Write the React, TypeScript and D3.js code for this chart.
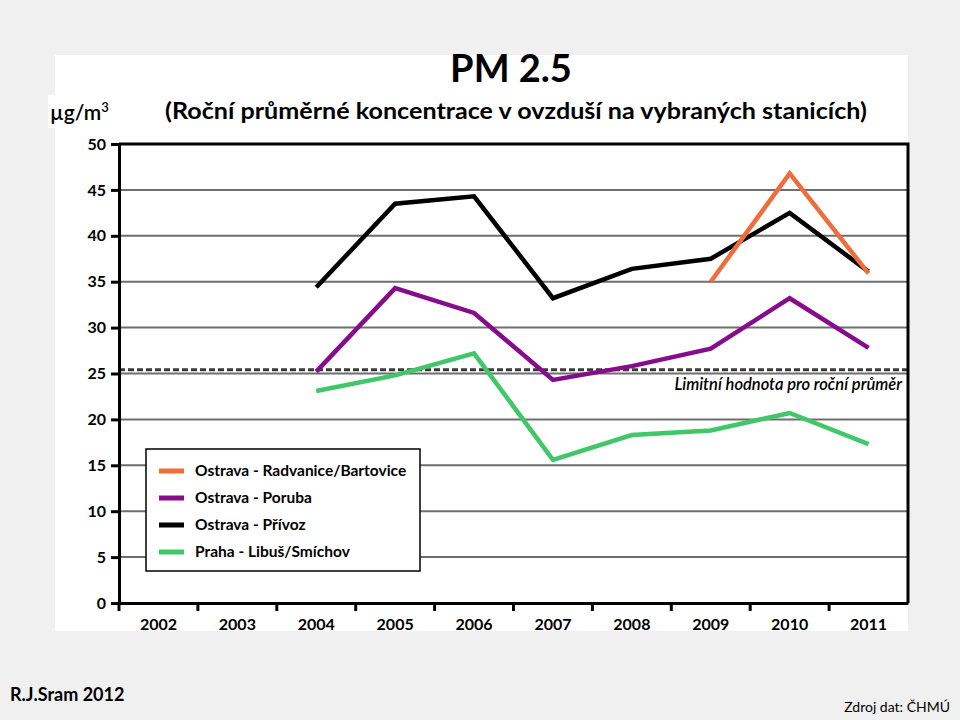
import React, { useEffect, useRef } from "react";
import * as d3 from "d3";

const years = ["2002", "2003", "2004", "2005", "2006", "2007", "2008", "2009", "2010", "2011"];
const radvanice = [null, null, null, null, null, null, null, 35.0, 46.8, 35.9];
const poruba = [null, null, 25.2, 34.3, 31.6, 24.3, 25.8, 27.7, 33.2, 27.8];
const privoz = [null, null, 34.4, 43.5, 44.3, 33.2, 36.4, 37.5, 42.5, 36.1];
const praha = [null, null, 23.1, 24.8, 27.2, 15.6, 18.3, 18.8, 20.7, 17.3];
const yTicks = [0, 5, 10, 15, 20, 25, 30, 35, 40, 45, 50];
const limitValue = 25.4;

const series = [
  { name: "Ostrava - Radvanice/Bartovice", values: radvanice, color: "#ef6d3b" },
  { name: "Ostrava - Poruba", values: poruba, color: "#870c8c" },
  { name: "Ostrava - Přívoz", values: privoz, color: "#000000" },
  { name: "Praha - Libuš/Smíchov", values: praha, color: "#40c768" },
];
// drawing order: orange on top
const drawOrder = [3, 1, 2, 0];

const WIDTH = 960;
const HEIGHT = 720;
const FONT = "Lato, 'Open Sans', sans-serif";

export default function App() {
  const ref = useRef<SVGSVGElement>(null);

  useEffect(() => {
    const container = ref.current;
    if (!container) return;

    const svg = d3.select(container);
    svg.selectAll("*").remove();

    svg.append("rect").attr("width", WIDTH).attr("height", HEIGHT).attr("fill", "#f0f0f0");
    // white panel
    svg.append("rect").attr("x", 55).attr("y", 55).attr("width", 853).attr("height", 576).attr("fill", "#ffffff");
    svg.append("rect").attr("x", 48).attr("y", 95).attr("width", 73).attr("height", 33).attr("fill", "#ffffff");

    const left = 119;
    const right = 908;
    const top = 144;
    const bottom = 603;

    const x = d3.scaleBand().domain(years).range([left, right]).padding(0);
    const y = d3.scaleLinear().domain([0, 50]).range([bottom, top]);

    // gridlines
    svg
      .append("g")
      .selectAll("line")
      .data(yTicks.filter((t) => t > 0 && t < 50))
      .enter()
      .append("line")
      .attr("x1", left)
      .attr("x2", right)
      .attr("y1", (d) => y(d))
      .attr("y2", (d) => y(d))
      .attr("stroke", "#6e6e6e")
      .attr("stroke-width", 2);

    // limit line
    svg
      .append("line")
      .attr("x1", left)
      .attr("x2", right)
      .attr("y1", y(limitValue))
      .attr("y2", y(limitValue))
      .attr("stroke", "#3a3a3a")
      .attr("stroke-width", 3)
      .attr("stroke-dasharray", "6,3");

    svg
      .append("text")
      .attr("x", 902)
      .attr("y", 390)
      .attr("text-anchor", "end")
      .attr("font-family", FONT)
      .attr("font-size", 16.5)
      .attr("font-style", "italic")
      .attr("font-weight", 600)
      .text("Limitní hodnota pro roční průměr");

    // frame: top and right
    svg
      .append("path")
      .attr("d", `M${left},${top}H${right}V${bottom}`)
      .attr("fill", "none")
      .attr("stroke", "#000")
      .attr("stroke-width", 3);

    // y axis
    const yAxis = d3.axisLeft(y).tickValues(yTicks).tickSize(8).tickPadding(5);
    const gy = svg.append("g").attr("transform", `translate(${left},0)`).call(yAxis);
    gy.select(".domain").attr("stroke-width", 3);
    gy.selectAll(".tick line").attr("stroke-width", 3);
    gy.selectAll("text")
      .attr("font-family", FONT)
      .attr("font-size", 16)
      .attr("font-weight", 700)
      .attr("fill", "#000");

    // x axis
    const xAxis = d3.axisBottom(x).tickSize(0).tickPadding(16);
    const gx = svg.append("g").attr("transform", `translate(0,${bottom})`).call(xAxis);
    gx.select(".domain").attr("stroke-width", 3);
    gx.selectAll("text")
      .attr("font-family", FONT)
      .attr("font-size", 16)
      .attr("font-weight", 700)
      .attr("fill", "#000");
    svg
      .append("g")
      .selectAll("line")
      .data(years)
      .enter()
      .append("line")
      .attr("x1", (d) => x(d)!)
      .attr("x2", (d) => x(d)!)
      .attr("y1", bottom)
      .attr("y2", bottom + 8)
      .attr("stroke", "#000")
      .attr("stroke-width", 3);

    // series lines
    const line = d3
      .line<number | null>()
      .defined((d) => d !== null)
      .x((_, i) => x(years[i])! + x.bandwidth() / 2)
      .y((d) => y(d as number));

    drawOrder.forEach((i) => {
      const s = series[i];
      svg
        .append("path")
        .datum(s.values)
        .attr("d", line)
        .attr("fill", "none")
        .attr("stroke", s.color)
        .attr("stroke-width", 4.5)
        .attr("stroke-linejoin", "miter");
    });

    // legend
    const legend = svg.append("g");
    legend
      .append("rect")
      .attr("x", 146)
      .attr("y", 449)
      .attr("width", 274)
      .attr("height", 122)
      .attr("fill", "#fff")
      .attr("stroke", "#000")
      .attr("stroke-width", 1.5);
    series.forEach((s, i) => {
      const ly = 471 + i * 27;
      legend
        .append("line")
        .attr("x1", 159)
        .attr("x2", 184)
        .attr("y1", ly)
        .attr("y2", ly)
        .attr("stroke", s.color)
        .attr("stroke-width", 5);
      legend
        .append("text")
        .attr("x", 195)
        .attr("y", ly + 5)
        .attr("font-family", FONT)
        .attr("font-size", 15.5)
        .attr("font-weight", 700)
        .text(s.name);
    });

    // titles
    svg
      .append("text")
      .attr("x", 511)
      .attr("y", 82)
      .attr("text-anchor", "middle")
      .attr("font-family", FONT)
      .attr("font-size", 38)
      .attr("font-weight", 700)
      .text("PM 2.5");
    svg
      .append("text")
      .attr("x", 516)
      .attr("y", 119)
      .attr("text-anchor", "middle")
      .attr("font-family", FONT)
      .attr("font-size", 22)
      .attr("font-weight", 700)
      .attr("textLength", 702)
      .attr("lengthAdjust", "spacingAndGlyphs")
      .text("(Roční průměrné koncentrace v ovzduší na vybraných stanicích)");

    const unit = svg
      .append("text")
      .attr("x", 50)
      .attr("y", 120)
      .attr("font-family", FONT)
      .attr("font-size", 21)
      .attr("font-weight", 600);
    unit.append("tspan").text("µg/m");
    unit.append("tspan").attr("font-size", 13).attr("dy", -8).text("3");

    // footer
    svg
      .append("text")
      .attr("x", 10)
      .attr("y", 701)
      .attr("font-family", FONT)
      .attr("font-size", 18)
      .attr("font-weight", 700)
      .text("R.J.Sram 2012");
    svg
      .append("text")
      .attr("x", 950)
      .attr("y", 712)
      .attr("text-anchor", "end")
      .attr("font-family", FONT)
      .attr("font-size", 14)
      .text("Zdroj dat: ČHMÚ");
  }, [ref]);

  return (
    <svg
      ref={ref}
      width={WIDTH}
      height={HEIGHT}
      style={{ position: "absolute", left: 0, top: 0, display: "block" }}
    />
  );
}
